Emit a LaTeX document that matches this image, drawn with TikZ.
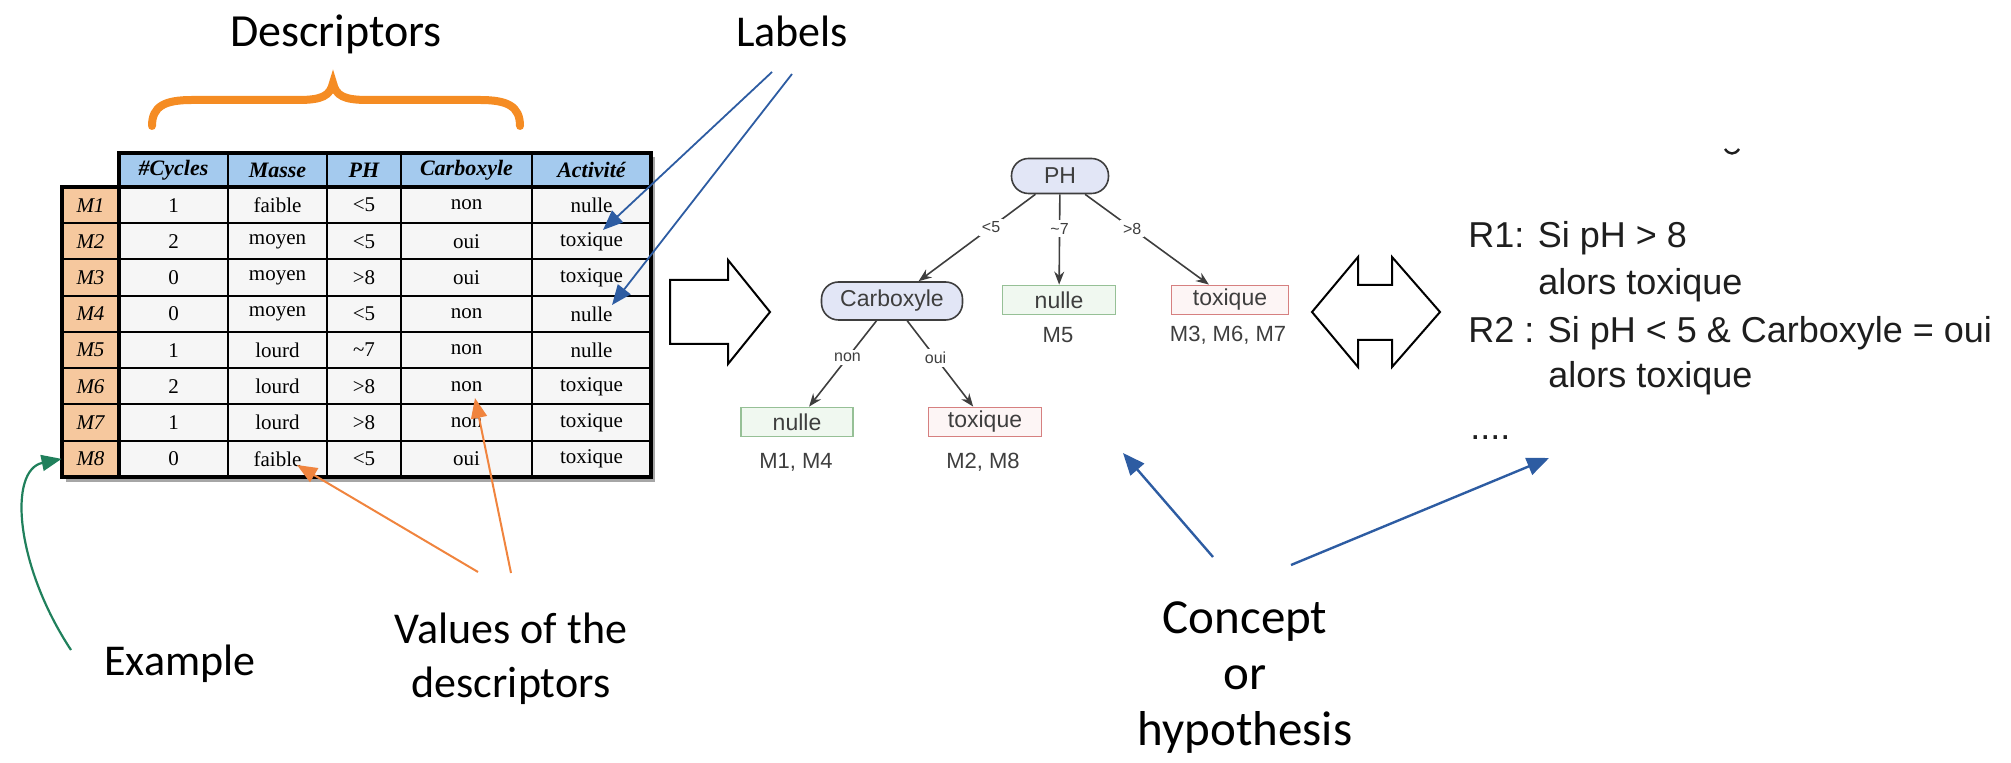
\documentclass[tikz,border=0pt]{standalone}
\usepackage{fontspec}
\setmainfont{Liberation Serif}
\newfontfamily\annfont{Carlito}
\newfontfamily\rulesans{Liberation Sans}
\newfontfamily\tabserif{Liberation Serif}
\usetikzlibrary{arrows.meta}
\definecolor{hdrblue}{RGB}{164,202,238}
\definecolor{mpeach}{RGB}{246,200,158}
\definecolor{cellgray}{RGB}{246,246,246}
\definecolor{annblue}{RGB}{45,92,162}
\definecolor{annorange}{RGB}{240,132,62}
\definecolor{brorange}{RGB}{245,140,35}
\definecolor{anngreen}{RGB}{32,128,92}
\definecolor{nodelav}{RGB}{226,230,246}
\definecolor{treegray}{RGB}{62,62,62}
\definecolor{leafgline}{RGB}{150,192,150}
\definecolor{leafgfill}{RGB}{240,248,240}
\definecolor{leafrline}{RGB}{214,128,128}
\definecolor{leafrfill}{RGB}{253,245,245}
\definecolor{ruletext}{RGB}{30,30,30}
\begin{document}
\begin{tikzpicture}[x=0.5pt,y=-0.5pt,
  ann/.style={font=\annfont\fontsize{22}{27}\selectfont, align=center, inner sep=0pt, anchor=base},
  rulet/.style={font=\rulesans\fontsize{18}{22}\selectfont, text=ruletext, inner sep=0pt, anchor=base west},
  hdr/.style={font=\tabserif\bfseries\itshape\fontsize{11}{13}\selectfont, inner sep=0pt},
  cell/.style={font=\tabserif\fontsize{10.5}{12}\selectfont, inner sep=0pt},
  mlab/.style={font=\tabserif\itshape\fontsize{10.5}{12}\selectfont, inner sep=0pt, minimum width=28.5pt, minimum height=18pt},
  decision/.style={rounded corners=8.5pt, draw=treegray, fill=nodelav, line width=0.8pt,
     font=\rulesans\fontsize{11.5}{13}\selectfont, text=treegray, inner sep=0pt},
  leafok/.style={draw=leafgline, fill=leafgfill, line width=0.9pt, minimum height=14.5pt,
     font=\rulesans\fontsize{11.5}{13}\selectfont, text=treegray, inner sep=0pt},
  leafbad/.style={draw=leafrline, fill=leafrfill, line width=0.9pt, minimum height=14.5pt,
     font=\rulesans\fontsize{11.5}{13}\selectfont, text=treegray, inner sep=0pt},
  capt/.style={font=\rulesans\fontsize{11}{13}\selectfont, text=treegray, inner sep=0pt},
  edgelab/.style={font=\rulesans\fontsize{8}{9}\selectfont, text=treegray, fill=white, inner sep=1.5pt},
  treeedge/.style={draw=treegray, line width=0.8pt, -{Stealth[length=6.5pt,width=5pt]}},
  bluearrow/.style={draw=annblue, line width=1.2pt, -{Triangle[length=11pt,width=9pt]}},
  bluethin/.style={draw=annblue, line width=0.9pt, -{Triangle[length=10pt,width=8pt]}},
  orangearrow/.style={draw=annorange, line width=1pt, -{Triangle[length=10pt,width=8pt]}},
  greenarrow/.style={draw=anngreen, line width=1.1pt, -{Triangle[length=10pt,width=8pt]}},
  hollow/.style={draw=black, fill=white, line width=1pt, line join=miter}
]
\path[use as bounding box] (0,0) rectangle (2011,763);

% ---------- table ----------
\fill[black!35] (66,477) rectangle (655,482);
\fill[black!35] (651,157) rectangle (655,482);
\fill[cellgray] (119,187) rectangle (651,477);
\fill[mpeach] (62,187) rectangle (119,477);
\fill[hdrblue] (119,153) rectangle (651,187);
\foreach \yy in {223.25,259.5,295.75,332,368.25,404.5,440.75}
  \draw[line width=1pt] (62,\yy) -- (651,\yy);
\foreach \xx in {228,327,401,532}
  \draw[line width=1pt] (\xx,153) -- (\xx,477);
\draw[line width=2pt] (119,153) rectangle (651,187);
\draw[line width=2pt] (62,187) rectangle (651,477);
\draw[line width=2pt] (119,153) -- (119,477);

\node[hdr] (h1) at (173.5,170) {\#Cycles};
\node[hdr] (h2) at (277.5,170) {Masse};
\node[hdr] (h3) at (364,170) {PH};
\node[hdr] (h4) at (466.5,170) {Carboxyle};
\node[hdr] (h5) at (591.5,170) {Activité};

\foreach \a/\b/\c/\d/\e [count=\i] in {
  1/faible/{<5}/non/nulle,
  2/moyen/{<5}/oui/toxique,
  0/moyen/{>8}/oui/toxique,
  0/moyen/{<5}/non/nulle,
  1/lourd/{\textasciitilde7}/non/nulle,
  2/lourd/{>8}/non/toxique,
  1/lourd/{>8}/non/toxique,
  0/faible/{<5}/oui/toxique}{
  \pgfmathsetmacro\yy{168.875+36.25*\i}
  \node[mlab] (m\i) at (90.5,\yy) {M\i};
  \node[cell] (c\i-1) at (173.5,\yy) {\a};
  \node[cell] (c\i-2) at (277.5,\yy) {\b};
  \node[cell] (c\i-3) at (364,\yy) {\c};
  \node[cell] (c\i-4) at (466.5,\yy) {\d};
  \node[cell] (c\i-5) at (591.5,\yy) {\e};
}

% ---------- brace and top labels ----------
\node[ann, font=\annfont\fontsize{23}{27}\selectfont] (desc) at (336,47) {Descriptors};
\node[ann] (labels) at (792,47) {Labels};
\draw[brorange, line width=4pt, line cap=round]
  (152,126) .. controls (152,106) and (165,100) .. (192,100) -- (298,100)
  .. controls (322,100) and (330,96) .. (333,83)
  .. controls (336,96) and (344,100) .. (368,100) -- (480,100)
  .. controls (507,100) and (520,106) .. (520,126);

\coordinate (labA) at (772,72);
\coordinate (labB) at (792,74);
\coordinate (tipA) at (603,230);
\coordinate (tipB) at (612,305);
\draw[bluethin] (labA) -- (tipA);
\draw[bluethin] (labB) -- (tipB);

% ---------- big right arrow ----------
\draw[hollow] (670,280) -- (728,280) -- (728,260) -- (770,312) -- (728,364) -- (728,344) -- (670,344) -- cycle;

% ---------- decision tree ----------
\node[decision, minimum width=48.5pt, minimum height=17.5pt] (ph) at (1060,176) {PH};
\node[decision, minimum width=70.5pt, minimum height=19pt] (carb) at (892,301) {Carboxyle};
\node[leafok, minimum width=56.5pt] (n1) at (1059,300) {nulle};
\node[leafbad, minimum width=58.5pt] (t1) at (1230,300) {toxique};
\node[leafok, minimum width=56pt] (n2) at (797,422) {nulle};
\node[leafbad, minimum width=56.5pt] (t2) at (985,422) {toxique};
\node[capt] (cn1) at (1058,335) {M5};
\node[capt] (ct1) at (1228,335) {M3, M6, M7};
\node[capt] (cn2) at (796,462) {M1, M4};
\node[capt] (ct2) at (983,462) {M2, M8};

\draw[treeedge] (ph) -- node[edgelab, pos=0.38] {<5} (carb);
\draw[treeedge] (ph) -- node[edgelab, pos=0.38] {\textasciitilde7} (n1);
\draw[treeedge] (ph) -- node[edgelab, pos=0.38] {>8} (t1);
\draw[treeedge] (carb) -- node[edgelab, pos=0.43] {non} (n2);
\draw[treeedge] (carb) -- node[edgelab, pos=0.43] {oui} (t2);

% ---------- double arrow ----------
\draw[hollow] (1312,312) -- (1358,257) -- (1358,285) -- (1392,285) -- (1392,257) -- (1440,312)
  -- (1392,367) -- (1392,340) -- (1358,340) -- (1358,367) -- cycle;

% ---------- rules ----------
\node[rulet] (r1) at (1468,248) {R1: Si pH > 8};
\node[rulet] (r1b) at (1538,295) {alors toxique};
\node[rulet] (r2) at (1468,343) {R2 : Si pH < 5 \& Carboxyle = oui};
\node[rulet] (r2b) at (1548,388) {alors toxique};
\node[rulet] (dots) at (1470,440) {....};
\draw[line width=1.2pt, ruletext] (1725,149) .. controls (1729,155) and (1735,155) .. (1739,149);

% ---------- bottom annotations ----------
\node[ann] (example) at (180,675) {Example};
\node[ann] (values) at (511,697) {Values of the\\descriptors};
\node[ann, font=\annfont\fontsize{24.5}{28}\selectfont] (concept) at (1245,745) {Concept\\or\\hypothesis};

\coordinate (exStart) at (71,650);
\draw[greenarrow] (exStart) .. controls (15,565) and (8,470) .. (m8.west);

\coordinate (valA) at (478,572);
\coordinate (valB) at (511,573);
\coordinate (tipV1) at (297,465);
\coordinate (tipV2) at (475,398);
\draw[orangearrow] (valA) -- (tipV1);
\draw[orangearrow] (valB) -- (tipV2);

\coordinate (conA) at (1213,557);
\coordinate (conB) at (1291,565);
\coordinate (tipC1) at (1123,453);
\coordinate (tipC2) at (1549,458);
\draw[bluearrow] (conA) -- (tipC1);
\draw[bluearrow] (conB) -- (tipC2);
\end{tikzpicture}
\end{document}
